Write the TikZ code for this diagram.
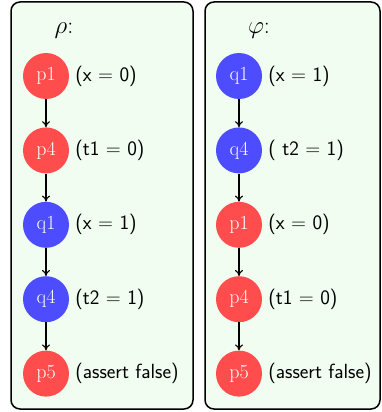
\documentclass[tikz,border=0pt]{standalone}
\usepackage{tikz}
\usetikzlibrary{positioning, arrows.meta}
\definecolor{clrP}{RGB}{255,77,77}
\definecolor{clrQ}{RGB}{77,77,255}
\definecolor{clrBg}{RGB}{240,253,240}

\begin{document}
\begin{tikzpicture}[
  x=1pt, y=1pt,
  node distance=28pt,
  panel/.style={draw=black, line width=1.5pt, rounded corners=9pt, fill=clrBg},
  state/.style={circle, minimum size=46pt, inner sep=0pt, text=white,
    font=\fontsize{20}{24}\selectfont},
  pst/.style={state, fill=clrP},
  qst/.style={state, fill=clrQ},
  lbl/.style={right=4pt, inner sep=2pt, font=\sffamily\fontsize{20.5}{24}\selectfont},
  ttl/.style={font=\fontsize{24}{28}\selectfont},
  arrow/.style={-{To[length=6pt,width=8pt]}, line width=1.1pt}
]
\useasboundingbox (0,0) rectangle (382,-412);

% Panels
\draw[panel] (11,-2) rectangle (193,-409);
\draw[panel] (205,-2) rectangle (380,-409);

% rho
\node[ttl] (rho) at (64,-31) {$\rho$:};
\node[pst] (r1) at (46,-76) {p1};
\node[pst, below=of r1] (r2) {p4};
\node[qst, below=of r2] (r3) {q1};
\node[qst, below=of r3] (r4) {q4};
\node[pst, below=of r4] (r5) {p5};

\node[lbl] (lr1) at (r1.east) {(x = 0)};
\node[lbl] (lr2) at (r2.east) {(t1 = 0)};
\node[lbl] (lr3) at (r3.east) {(x = 1)};
\node[lbl] (lr4) at (r4.east) {(t2 = 1)};
\node[lbl] (lr5) at (r5.east) {(assert false)};

\draw[arrow] (r1) -- (r2);
\draw[arrow] (r2) -- (r3);
\draw[arrow] (r3) -- (r4);
\draw[arrow] (r4) -- (r5);

% phi
\node[ttl] (phi) at (259,-31) {$\varphi$:};
\node[qst] (f1) at (239,-76) {q1};
\node[qst, below=of f1] (f2) {q4};
\node[pst, below=of f2] (f3) {p1};
\node[pst, below=of f3] (f4) {p4};
\node[pst, below=of f4] (f5) {p5};

\node[lbl] (lf1) at (f1.east) {(x = 1)};
\node[lbl] (lf2) at (f2.east) {( t2 = 1)};
\node[lbl] (lf3) at (f3.east) {(x = 0)};
\node[lbl] (lf4) at (f4.east) {(t1 = 0)};
\node[lbl] (lf5) at (f5.east) {(assert false)};

\draw[arrow] (f1) -- (f2);
\draw[arrow] (f2) -- (f3);
\draw[arrow] (f3) -- (f4);
\draw[arrow] (f4) -- (f5);

\end{tikzpicture}
\end{document}
